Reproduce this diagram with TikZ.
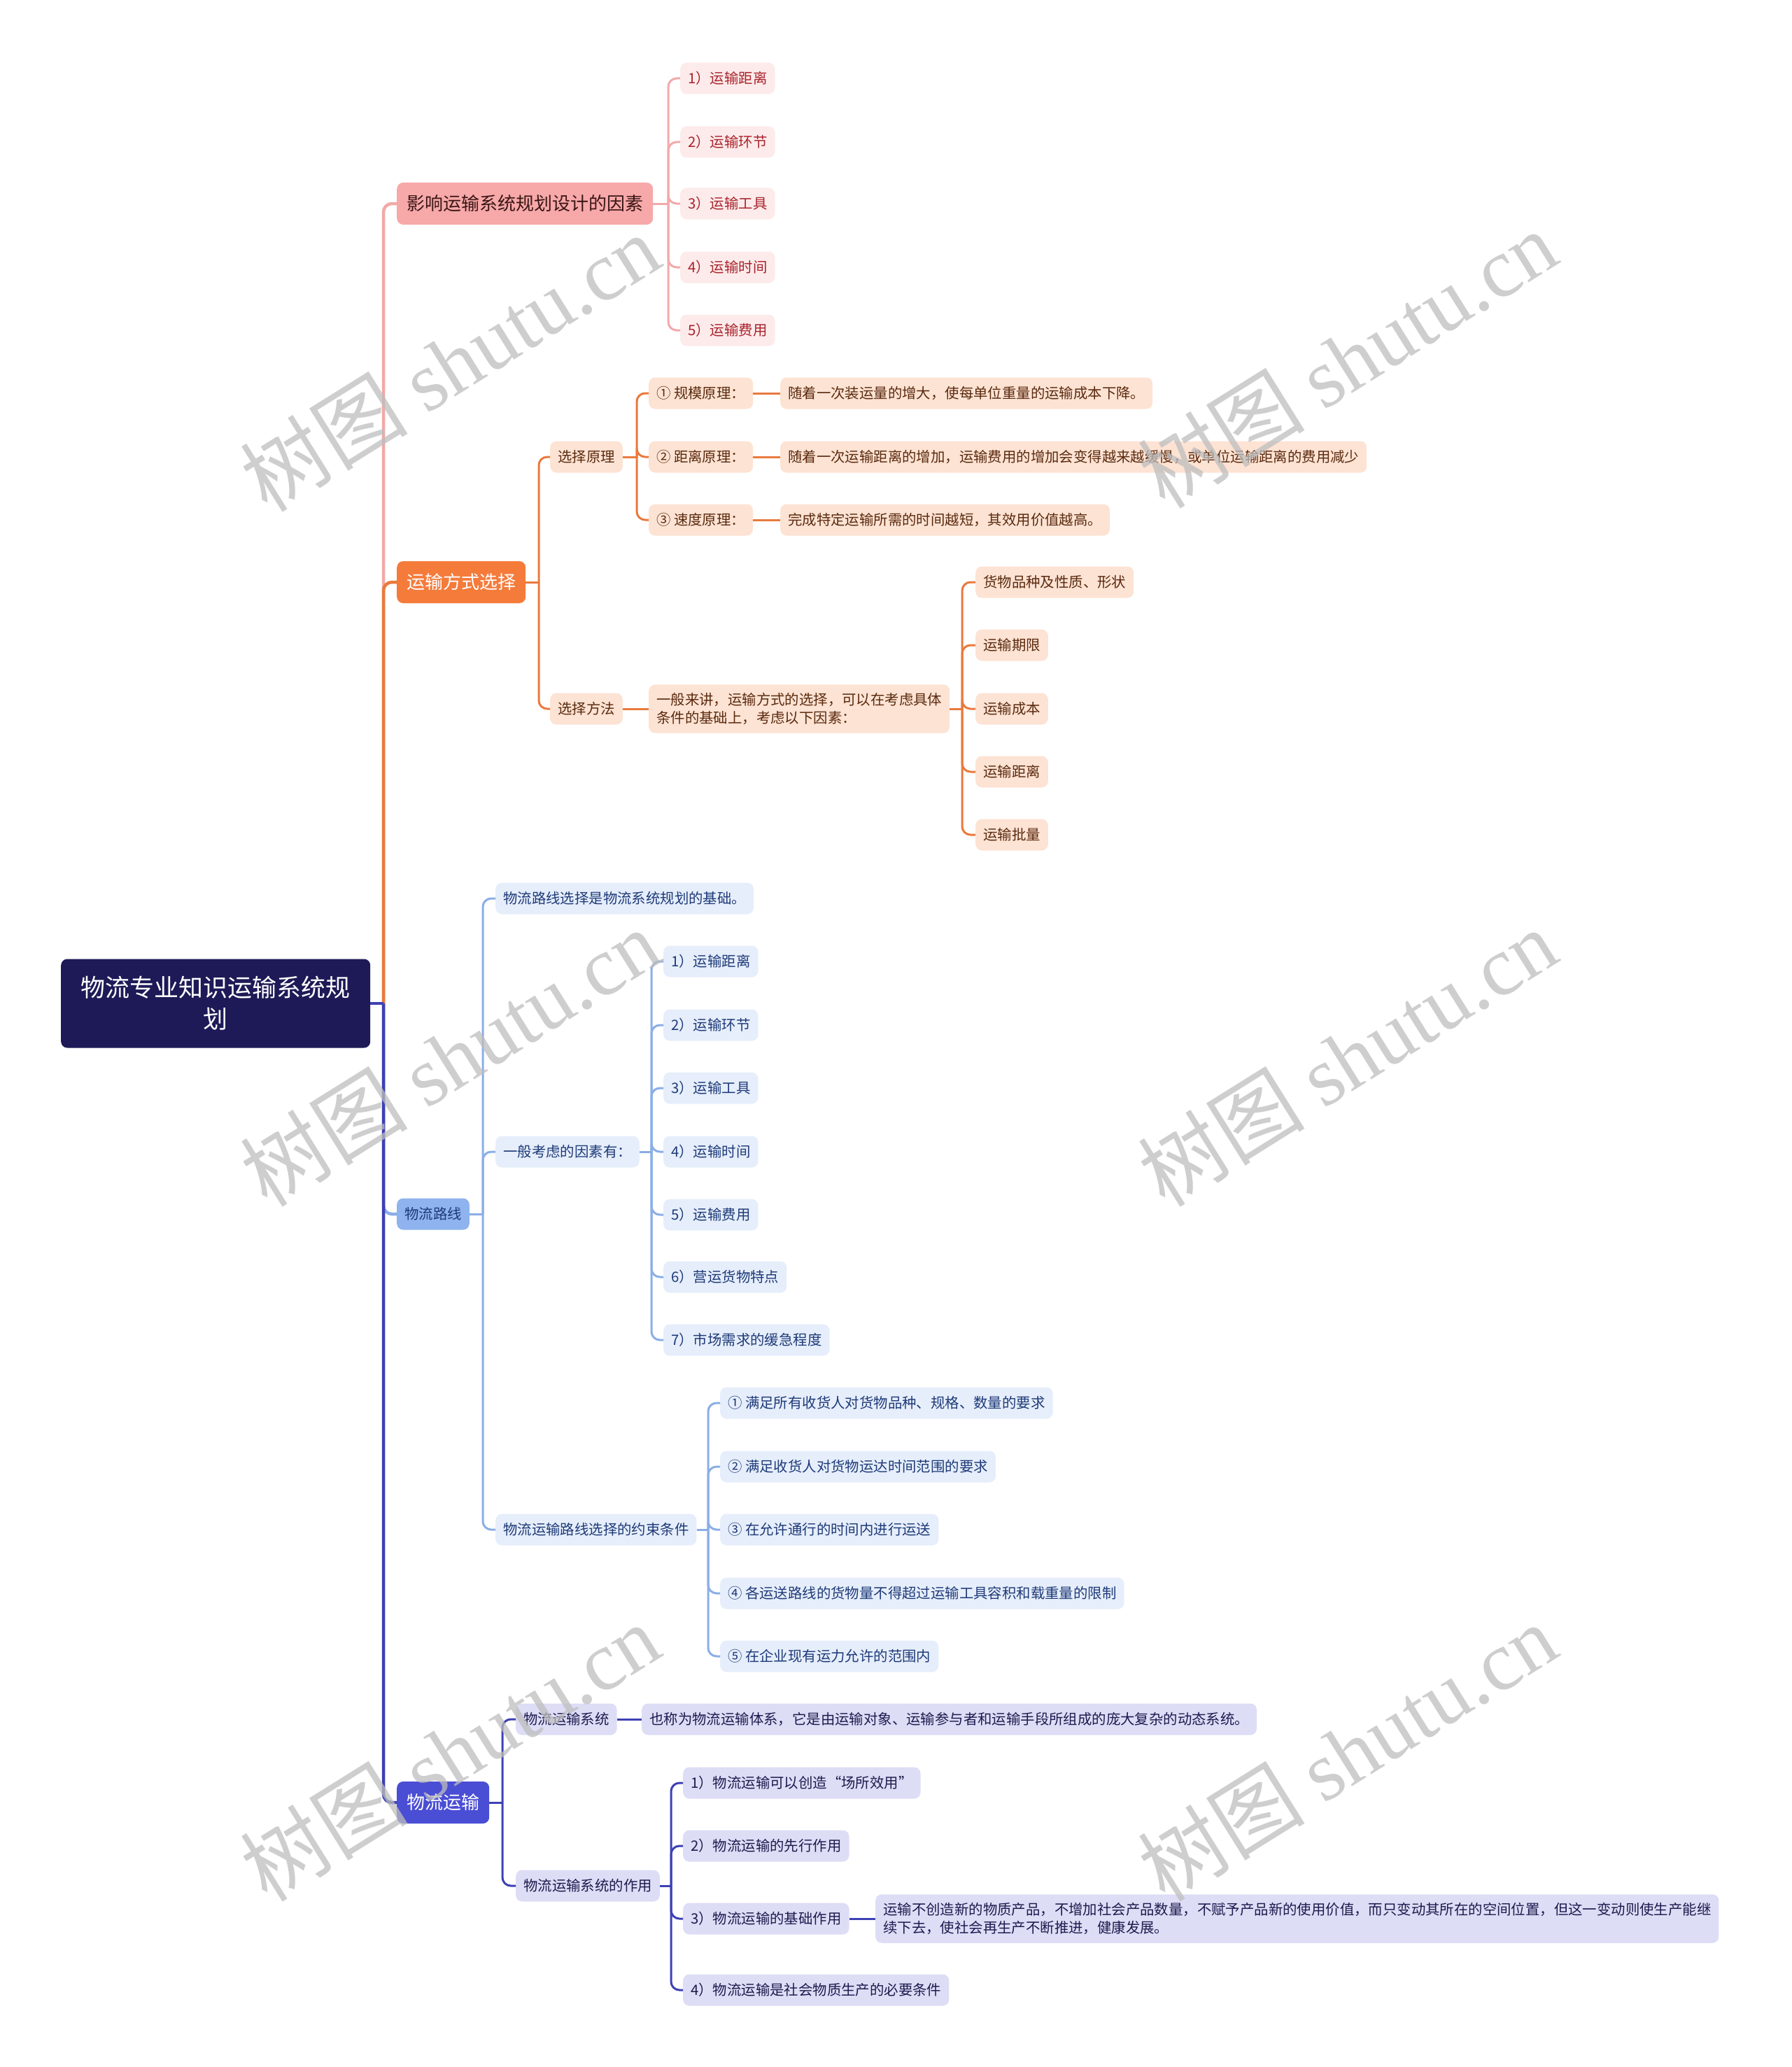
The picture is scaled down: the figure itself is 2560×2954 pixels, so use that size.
\documentclass[tikz,border=0pt]{standalone}
\usepackage{fontspec}
\setmainfont{Noto Sans CJK SC}
\newfontfamily\wmserif{Liberation Serif}
\usetikzlibrary{calc}
\definecolor{rootc}{HTML}{1D1A57}
\definecolor{pinkN}{HTML}{F7A8A8}
\definecolor{pinkL}{HTML}{F2A9A9}
\definecolor{pinkF}{HTML}{FDEBEB}
\definecolor{pinkT}{HTML}{A8232B}
\definecolor{pinkNT}{HTML}{3A1616}
\definecolor{orN}{HTML}{F57B3B}
\definecolor{orL}{HTML}{E97A3E}
\definecolor{orF}{HTML}{FDE3D4}
\definecolor{orT}{HTML}{5A2A0E}
\definecolor{blN}{HTML}{8EB3EE}
\definecolor{blL}{HTML}{8BAEE6}
\definecolor{blF}{HTML}{E6EEFB}
\definecolor{blT}{HTML}{1E3A78}
\definecolor{inN}{HTML}{4A4ED4}
\definecolor{inL}{HTML}{3E41B3}
\definecolor{inF}{HTML}{DDDDF6}
\definecolor{inT}{HTML}{1D1B4E}
\definecolor{wmc}{HTML}{BEBEBE}
\begin{document}
\begin{tikzpicture}[x=1pt,y=-1pt,
  basebox/.style={anchor=west, rounded corners=9pt, inner xsep=11pt, inner ysep=12pt,
    minimum height=45pt, font=\fontsize{20.4}{26}\selectfont, align=left},
  bigbox/.style={basebox, inner xsep=14pt, minimum height=60pt, font=\fontsize{26}{32}\selectfont},
  rootbox/.style={anchor=west, rounded corners=9pt, fill=rootc, text=white,
    minimum width=442pt, minimum height=127pt, align=center,
    font=\fontsize{35}{45}\selectfont},
  pkBig/.style={bigbox, fill=pinkN, text=pinkNT},
  pkS/.style={basebox, fill=pinkF, text=pinkT},
  orBig/.style={bigbox, fill=orN, text=white},
  orS/.style={basebox, fill=orF, text=orT},
  blBig/.style={basebox, fill=blN, text=blT},
  blS/.style={basebox, fill=blF, text=blT},
  inBig/.style={bigbox, fill=inN, text=white},
  inS/.style={basebox, fill=inF, text=inT},
  mainline/.style={line width=4.5pt, rounded corners=12pt},
  subline/.style={line width=3pt, rounded corners=12pt},
  wmark/.style={text=wmc, text opacity=0.75, rotate=32, font=\fontsize{120}{120}\selectfont}
]
\useasboundingbox (0,0) rectangle (2560,2954);

% root and level 1
\node[rootbox] (root) at (87,1434) {物流专业知识运输系统规\\划};
\coordinate (jr) at (548,1434);
\node[pkBig] (p1) at (567,291) {影响运输系统规划设计的因素};
\node[orBig] (p2) at (567,832) {运输方式选择};
\node[blBig] (p3) at (567,1735) {物流路线};
\node[inBig] (p4) at (567,2576) {物流运输};

\draw[mainline, draw=pinkL] (jr) |- (p1.west);
\draw[mainline, draw=orL] (jr) |- (p2.west);
\draw[mainline, draw=blL] (jr) |- (p3.west);
\draw[mainline, draw=inL] (jr) |- (p4.west);
\draw[mainline, draw=inL] (root.east) -- (jr);

% pink branch
\node[pkS] (a1) at (972,112) {1）运输距离};
\node[pkS] (a2) at (972,203) {2）运输环节};
\node[pkS] (a3) at (972,291) {3）运输工具};
\node[pkS] (a4) at (972,382) {4）运输时间};
\node[pkS] (a5) at (972,472) {5）运输费用};
\coordinate (ja) at (955,291);
\draw[subline, draw=pinkL] (p1.east) -- (ja);
\foreach \c in {a1,a2,a3,a4,a5} \draw[subline, draw=pinkL] (ja) |- (\c.west);

% orange branch
\node[orS] (b1) at (786,653) {选择原理};
\node[orS] (b2) at (786,1013) {选择方法};
\coordinate (jb) at (770,832);
\draw[subline, draw=orL] (p2.east) -- (jb);
\foreach \c in {b1,b2} \draw[subline, draw=orL] (jb) |- (\c.west);

\node[orS] (b11) at (927,562) {① 规模原理：};
\node[orS] (b12) at (927,653) {② 距离原理：};
\node[orS] (b13) at (927,743) {③ 速度原理：};
\coordinate (jb1) at (910,653);
\draw[subline, draw=orL] (b1.east) -- (jb1);
\foreach \c in {b11,b12,b13} \draw[subline, draw=orL] (jb1) |- (\c.west);

\node[orS] (b111) at (1115,562) {随着一次装运量的增大，使每单位重量的运输成本下降。};
\node[orS] (b121) at (1115,653) {随着一次运输距离的增加，运输费用的增加会变得越来越缓慢，或单位运输距离的费用减少};
\node[orS] (b131) at (1115,743) {完成特定运输所需的时间越短，其效用价值越高。};
\draw[subline, draw=orL] (b11.east) -- (b111.west);
\draw[subline, draw=orL] (b12.east) -- (b121.west);
\draw[subline, draw=orL] (b13.east) -- (b131.west);

\node[orS] (b21) at (927,1013) {一般来讲，运输方式的选择，可以在考虑具体\\条件的基础上，考虑以下因素：};
\draw[subline, draw=orL] (b2.east) -- (b21.west);
\node[orS] (c1) at (1394,832) {货物品种及性质、形状};
\node[orS] (c2) at (1394,922) {运输期限};
\node[orS] (c3) at (1394,1013) {运输成本};
\node[orS] (c4) at (1394,1103) {运输距离};
\node[orS] (c5) at (1394,1193) {运输批量};
\coordinate (jc) at (1375,1013);
\draw[subline, draw=orL] (b21.east) -- (jc);
\foreach \c in {c1,c2,c3,c4,c5} \draw[subline, draw=orL] (jc) |- (\c.west);

% blue branch
\node[blS] (d1) at (708,1284) {物流路线选择是物流系统规划的基础。};
\node[blS] (d2) at (708,1646) {一般考虑的因素有：};
\node[blS] (d3) at (708,2186) {物流运输路线选择的约束条件};
\coordinate (jd) at (690,1735);
\draw[subline, draw=blL] (p3.east) -- (jd);
\foreach \c in {d1,d2,d3} \draw[subline, draw=blL] (jd) |- (\c.west);

\node[blS] (e1) at (948,1374) {1）运输距离};
\node[blS] (e2) at (948,1465) {2）运输环节};
\node[blS] (e3) at (948,1555) {3）运输工具};
\node[blS] (e4) at (948,1646) {4）运输时间};
\node[blS] (e5) at (948,1736) {5）运输费用};
\node[blS] (e6) at (948,1825) {6）营运货物特点};
\node[blS] (e7) at (948,1915) {7）市场需求的缓急程度};
\coordinate (je) at (931,1646);
\draw[subline, draw=blL] (d2.east) -- (je);
\foreach \c in {e1,e2,e3,e4,e5,e6,e7} \draw[subline, draw=blL] (je) |- (\c.west);

\node[blS] (f1) at (1029,2005) {① 满足所有收货人对货物品种、规格、数量的要求};
\node[blS] (f2) at (1029,2096) {② 满足收货人对货物运达时间范围的要求};
\node[blS] (f3) at (1029,2186) {③ 在允许通行的时间内进行运送};
\node[blS] (f4) at (1029,2277) {④ 各运送路线的货物量不得超过运输工具容积和载重量的限制};
\node[blS] (f5) at (1029,2367) {⑤ 在企业现有运力允许的范围内};
\coordinate (jf) at (1012,2186);
\draw[subline, draw=blL] (d3.east) -- (jf);
\foreach \c in {f1,f2,f3,f4,f5} \draw[subline, draw=blL] (jf) |- (\c.west);

% indigo branch
\node[inS] (g1) at (737,2457) {物流运输系统};
\node[inS] (g2) at (737,2695) {物流运输系统的作用};
\coordinate (jg) at (718,2576);
\draw[subline, draw=inL] (p4.east) -- (jg);
\foreach \c in {g1,g2} \draw[subline, draw=inL] (jg) |- (\c.west);

\node[inS] (g11) at (917,2457) {也称为物流运输体系，它是由运输对象、运输参与者和运输手段所组成的庞大复杂的动态系统。};
\draw[subline, draw=inL] (g1.east) -- (g11.west);

\node[inS] (h1) at (976,2548) {1）物流运输可以创造“场所效用”};
\node[inS] (h2) at (976,2638) {2）物流运输的先行作用};
\node[inS] (h3) at (976,2742) {3）物流运输的基础作用};
\node[inS] (h4) at (976,2844) {4）物流运输是社会物质生产的必要条件};
\coordinate (jh) at (959,2695);
\draw[subline, draw=inL] (g2.east) -- (jh);
\foreach \c in {h1,h2,h3,h4} \draw[subline, draw=inL] (jh) |- (\c.west);

\node[inS] (h31) at (1251,2742) {运输不创造新的物质产品，不增加社会产品数量，不赋予产品新的使用价值，而只变动其所在的空间位置，但这一变动则使生产能继\\续下去，使社会再生产不断推进，健康发展。};
\draw[subline, draw=inL] (h3.east) -- (h31.west);

% watermarks
\node[wmark] (w1) at (643,518) {树图 {\wmserif shutu.cn}};
\node[wmark] (w2) at (1925,513) {树图 {\wmserif shutu.cn}};
\node[wmark] (w3) at (643,1511) {树图 {\wmserif shutu.cn}};
\node[wmark] (w4) at (1925,1511) {树图 {\wmserif shutu.cn}};
\node[wmark] (w5) at (643,2504) {树图 {\wmserif shutu.cn}};
\node[wmark] (w6) at (1925,2504) {树图 {\wmserif shutu.cn}};
\end{tikzpicture}
\end{document}
